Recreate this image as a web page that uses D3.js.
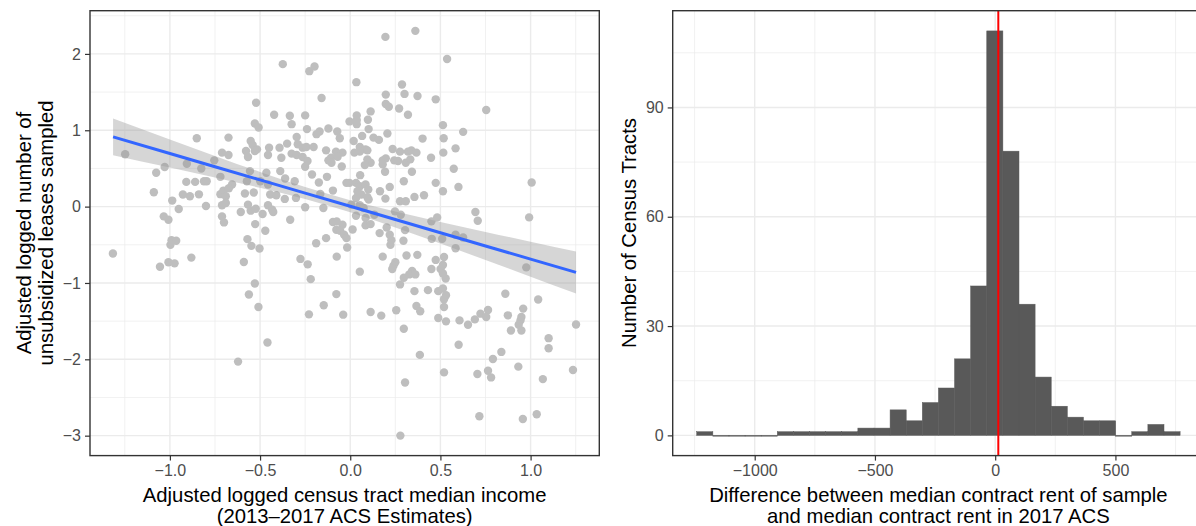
<!DOCTYPE html>
<html>
<head>
<meta charset="utf-8">
<script src="https://cdn.jsdelivr.net/npm/d3@7"></script>
<style>
  body { margin: 0; background: #fff; }
  svg { display: block; font-family: "Liberation Sans", Arial, sans-serif; }
</style>
</head>
<body>
<div id="chart"></div>
<script>
// left panel: adjusted logged income (x) vs adjusted logged leases sampled (y)
const scatterPoints = [
  [0.361, 2.302], [0.195, 2.223], [-0.374, 1.866], [-0.227, 1.774], [-0.198, 1.836], [0.537, 1.933],
  [0.034, 1.630], [0.287, 1.599], [0.197, 1.467], [0.301, 1.476], [0.373, 1.449], [-0.159, 1.422],
  [0.474, 1.405], [-0.522, 1.361], [0.197, 1.344], [0.214, 1.308], [0.271, 1.286], [0.754, 1.265],
  [0.113, 1.247], [0.320, 1.203], [-0.422, 1.203], [-0.335, 1.191], [-0.250, 1.195], [0.036, 1.195],
  [0.036, 1.133], [0.098, 1.138], [-0.004, 1.116], [-0.529, 1.089], [-0.508, 1.036], [-0.325, 1.080],
  [0.514, 1.067], [0.036, 1.080], [-0.240, 1.015], [-0.121, 1.024], [-0.170, 0.984], [0.102, 1.015],
  [0.626, 0.979], [-0.072, 0.984], [-0.187, 0.949], [0.206, 0.957], [-0.851, 0.895], [-0.675, 0.904],
  [-0.297, 0.913], [-0.058, 0.895], [0.066, 0.926], [0.401, 0.891], [0.518, 0.895], [0.129, 0.904],
  [0.159, 0.874], [-0.552, 0.860], [-0.541, 0.807], [0.019, 0.860], [-0.350, 0.825], [-0.291, 0.816],
  [-0.264, 0.772], [-0.243, 0.781], [-0.203, 0.781], [0.053, 0.781], [0.085, 0.750], [0.053, 0.720],
  [-0.450, 0.772], [-0.392, 0.772], [0.584, 0.763], [0.235, 0.755], [-0.134, 0.737], [-0.079, 0.720],
  [-0.043, 0.707], [-0.578, 0.729], [-0.517, 0.750], [-0.529, 0.729], [0.276, 0.720], [0.320, 0.720],
  [0.339, 0.737], [0.367, 0.707], [-0.711, 0.707], [-0.675, 0.676], [0.023, 0.707], [0.095, 0.737],
  [0.516, 0.707], [-0.325, 0.694], [-0.297, 0.676], [-0.264, 0.650], [-0.106, 0.641], [-0.070, 0.654],
  [-0.456, 0.676], [-1.248, 0.685], [-0.567, 0.650], [0.448, 0.641], [-0.121, 0.606], [-0.104, 0.575],
  [0.095, 0.619], [0.113, 0.575], [0.081, 0.544], [0.180, 0.606], [0.197, 0.632], [0.180, 0.553],
  [0.244, 0.606], [0.265, 0.597], [0.308, 0.575], [0.333, 0.619], [-0.754, 0.606], [-0.382, 0.641],
  [-0.237, 0.597], [-0.250, 0.522], [-0.047, 0.526], [-0.906, 0.562], [0.574, 0.496], [-1.029, 0.518],
  [-1.076, 0.443], [-0.826, 0.500], [-0.388, 0.465], [-0.465, 0.443], [-0.556, 0.465], [0.193, 0.456],
  [0.342, 0.456], [-0.212, 0.421], [-0.129, 0.390], [0.055, 0.412], [-0.720, 0.390], [-0.004, 0.311],
  [0.032, 0.311], [0.053, 0.268], [0.085, 0.289], [-0.909, 0.324], [-0.860, 0.324], [-0.811, 0.333],
  [-0.796, 0.333], [0.474, 0.311], [1.006, 0.315], [-0.573, 0.333], [-0.499, 0.333], [-0.456, 0.289],
  [-0.308, 0.333], [-0.174, 0.315], [-0.021, 0.311], [0.297, 0.333], [-0.655, 0.289], [-0.361, 0.368],
  [0.600, 0.258], [0.100, 0.223], [0.219, 0.258], [-1.089, 0.188], [0.514, 0.201], [-0.703, 0.210],
  [-0.673, 0.240], [-0.720, 0.163], [-0.690, 0.136], [-0.839, 0.161], [-0.584, 0.171], [-0.535, 0.184],
  [-0.928, 0.158], [-0.889, 0.136], [-0.444, 0.158], [-0.410, 0.149], [-0.363, 0.101], [-0.301, 0.114],
  [-0.166, 0.166], [-0.096, 0.210], [0.165, 0.201], [0.356, 0.127], [0.409, 0.149], [0.040, 0.201],
  [0.061, 0.158], [0.032, 0.114], [0.095, 0.123], [0.195, 0.105], [-0.987, 0.079], [-0.690, 0.048],
  [-0.711, 0.017], [-0.567, 0.026], [-0.800, 0.008], [-0.456, 0.017], [-0.552, -0.053], [-0.524, -0.027],
  [0.102, 0.092], [0.276, 0.070], [0.308, 0.070], [0.006, 0.026], [0.053, 0.017], [0.074, -0.018],
  [-0.250, -0.009], [-0.149, -0.018], [-0.951, -0.031], [-0.433, -0.040], [-0.607, -0.070], [-0.486, -0.097],
  [-0.427, -0.070], [-1.034, -0.128], [-1.008, -0.172], [-0.711, -0.128], [-0.700, -0.207], [-0.333, -0.172],
  [-0.527, -0.229], [0.032, -0.119], [0.085, -0.150], [0.134, -0.106], [0.248, -0.062], [0.280, -0.106],
  [0.694, -0.070], [0.707, -0.185], [0.992, -0.141], [-0.096, -0.202], [-0.075, -0.193], [-0.043, -0.237],
  [0.085, -0.246], [0.113, -0.229], [0.202, -0.273], [0.304, -0.308], [0.450, -0.193], [0.482, -0.141],
  [-0.077, -0.303], [-0.056, -0.316], [-0.034, -0.369], [-0.021, -0.413], [0.013, -0.299], [-0.471, -0.316],
  [0.163, -0.347], [0.219, -0.369], [0.584, -0.369], [0.626, -0.404], [0.452, -0.422], [0.510, -0.422],
  [-0.134, -0.413], [0.228, -0.439], [0.223, -0.501], [0.295, -0.448], [-0.570, -0.426], [-0.991, -0.439],
  [-0.965, -0.448], [-0.997, -0.501], [-0.189, -0.479], [-0.548, -0.514], [-0.503, -0.549], [-0.017, -0.536],
  [0.584, -0.545], [-1.316, -0.615], [-0.075, -0.655], [0.180, -0.655], [0.312, -0.641], [0.372, -0.632],
  [0.520, -0.659], [-0.881, -0.668], [-0.276, -0.685], [0.474, -0.698], [-0.590, -0.725], [-1.055, -0.787],
  [-1.008, -0.729], [-0.974, -0.743], [-0.236, -0.756], [0.250, -0.729], [0.240, -0.773], [0.233, -0.817],
  [0.976, -0.796], [0.514, -0.765], [0.501, -0.817], [0.450, -0.817], [0.053, -0.852], [0.343, -0.844],
  [0.327, -0.888], [0.361, -0.888], [0.514, -0.875], [0.529, -0.941], [-0.219, -0.950], [0.297, -0.932],
  [0.276, -1.019], [-0.529, -1.006], [0.431, -1.094], [0.488, -1.107], [0.514, -1.072], [0.531, -1.160],
  [0.520, -1.213], [0.356, -1.107], [-0.562, -1.151], [-0.077, -1.146], [0.860, -1.142], [1.042, -1.217],
  [-0.509, -1.314], [-0.147, -1.292], [0.520, -1.314], [0.367, -1.301], [0.388, -1.371], [0.959, -1.336],
  [0.764, -1.353], [0.113, -1.380], [0.255, -1.358], [-0.229, -1.411], [-0.039, -1.415], [0.172, -1.428],
  [0.722, -1.402], [0.754, -1.446], [0.874, -1.424], [0.488, -1.459], [0.949, -1.446], [0.944, -1.490],
  [0.934, -1.547], [0.531, -1.503], [0.606, -1.490], [0.691, -1.477], [0.653, -1.547], [1.252, -1.543],
  [0.891, -1.622], [0.949, -1.622], [0.297, -1.600], [1.100, -1.723], [1.100, -1.855], [-0.459, -1.780],
  [0.601, -1.810], [0.838, -1.903], [0.386, -1.942], [-0.622, -2.030], [0.791, -1.995], [0.932, -2.096],
  [1.235, -2.140], [0.520, -2.171], [0.764, -2.149], [0.781, -2.237], [0.705, -2.193], [1.068, -2.259],
  [0.304, -2.303], [0.716, -2.746], [0.957, -2.782], [1.034, -2.720], [0.278, -2.999]
];

// linear fit with confidence band
const fitX = [-1.315, -1.0, -0.75, -0.5, -0.25, 0.0, 0.25, 0.5, 0.75, 1.0, 1.252];
const fitY = [0.914, 0.696, 0.523, 0.350, 0.177, 0.004, -0.169, -0.342, -0.515, -0.688, -0.862];
const fitLower = [0.674, 0.512, 0.382, 0.246, 0.099, -0.075, -0.273, -0.484, -0.699, -0.917, -1.137];
const fitUpper = [1.154, 0.880, 0.664, 0.454, 0.256, 0.083, -0.065, -0.200, -0.331, -0.459, -0.587];

const scatterXTicks = [-1.0, -0.5, 0.0, 0.5, 1.0];
const scatterYTicks = [-3, -2, -1, 0, 1, 2];

// right panel: histogram of rent differences (30 bins)
const binEdges = [-1241, -1174, -1107, -1040, -973, -906, -839, -772, -705, -638, -571, -504, -437, -370,
  -303, -236, -169, -102, -35, 32, 99, 166, 233, 300, 367, 434, 501, 568, 635, 702, 769];
const binCounts = [1, 0, 0, 0, 0, 1, 1, 1, 1, 1, 2, 2, 7, 4, 9, 13, 21, 41, 111, 78, 36, 16, 8, 5, 4, 4, 0, 1, 3, 1];
const medianDiff = 13;

const histXTicks = [-1000, -500, 0, 500];
const histYTicks = [0, 30, 60, 90];

document.addEventListener("DOMContentLoaded", () => {
  const W = 1196, H = 526;
  const GRID = "#EBEBEB";
  const BORDER = "#333333";
  const TICK_TEXT = "#4D4D4D";

  const svg = d3.select("#chart").append("svg")
    .attr("width", W).attr("height", H);

  function drawFrame(g, x, y, xMajor, xMinor, yMajor, yMinor) {
    const [x0, x1] = x.range();
    const [y0, y1] = y.range();
    // minor grid
    g.append("g").selectAll("line").data(xMinor).enter().append("line")
      .attr("x1", d => x(d)).attr("x2", d => x(d)).attr("y1", y1).attr("y2", y0)
      .attr("stroke", GRID).attr("stroke-width", 0.7);
    g.append("g").selectAll("line").data(yMinor).enter().append("line")
      .attr("y1", d => y(d)).attr("y2", d => y(d)).attr("x1", x0).attr("x2", x1)
      .attr("stroke", GRID).attr("stroke-width", 0.7);
    // major grid
    g.append("g").selectAll("line").data(xMajor).enter().append("line")
      .attr("x1", d => x(d)).attr("x2", d => x(d)).attr("y1", y1).attr("y2", y0)
      .attr("stroke", GRID).attr("stroke-width", 1.4);
    g.append("g").selectAll("line").data(yMajor).enter().append("line")
      .attr("y1", d => y(d)).attr("y2", d => y(d)).attr("x1", x0).attr("x2", x1)
      .attr("stroke", GRID).attr("stroke-width", 1.4);
  }

  function drawAxes(g, x, y, xMajor, yMajor, xFmt, yFmt) {
    const [x0, x1] = x.range();
    const [y0, y1] = y.range();
    const ax = g.append("g").attr("transform", `translate(0,${y0})`)
      .call(d3.axisBottom(x).tickValues(xMajor).tickFormat(xFmt).tickSize(5).tickSizeOuter(0).tickPadding(4));
    const ay = g.append("g").attr("transform", `translate(${x0},0)`)
      .call(d3.axisLeft(y).tickValues(yMajor).tickFormat(yFmt).tickSize(5).tickSizeOuter(0).tickPadding(4));
    [ax, ay].forEach(a => {
      a.select(".domain").remove();
      a.selectAll(".tick line").attr("stroke", BORDER).attr("stroke-width", 1.2);
      a.selectAll(".tick text").attr("fill", TICK_TEXT)
        .style("font-size", "16px").style("font-family", "Liberation Sans, Arial, sans-serif");
    });
    g.append("rect")
      .attr("x", x0).attr("y", y1).attr("width", x1 - x0).attr("height", y0 - y1)
      .attr("fill", "none").attr("stroke", BORDER).attr("stroke-width", 1.4);
  }

  function multiLine(g, lines, x, y, rotate) {
    const t = g.append("text")
      .attr("text-anchor", "middle")
      .attr("fill", "#000")
      .style("font-size", "20.3px")
      .attr("transform", rotate ? `translate(${x},${y}) rotate(-90)` : `translate(${x},${y})`);
    lines.forEach((s, i) => {
      t.append("tspan").attr("x", 0).attr("y", i * 21.5).attr("dy", "0.35em").text(s);
    });
  }

  // VIZ 1 : SCATTER WITH LINEAR FIT
  function createScatterPlot() {
    const g = svg.append("g");
    const x = d3.scaleLinear().domain([-1.443, 1.381]).range([90, 599.3]);
    const y = d3.scaleLinear().domain([-3.261, 2.566]).range([455.6, 10.7]);

    drawFrame(g, x, y, scatterXTicks, [-1.25, -0.75, -0.25, 0.25, 0.75, 1.25],
      scatterYTicks, [-2.5, -1.5, -0.5, 0.5, 1.5, 2.5]);

    g.append("g").selectAll("circle").data(scatterPoints).enter().append("circle")
      .attr("cx", d => x(d[0])).attr("cy", d => y(d[1]))
      .attr("r", 4.2).attr("fill", "#BEBEBE");

    const band = fitX.map((v, i) => ({ x: v, lo: fitLower[i], hi: fitUpper[i], y: fitY[i] }));
    g.append("path").datum(band)
      .attr("d", d3.area().x(d => x(d.x)).y0(d => y(d.lo)).y1(d => y(d.hi)).curve(d3.curveMonotoneX))
      .attr("fill", "#999999").attr("opacity", 0.4);
    g.append("path").datum(band)
      .attr("d", d3.line().x(d => x(d.x)).y(d => y(d.y)))
      .attr("fill", "none").attr("stroke", "#3366FF").attr("stroke-width", 3);

    drawAxes(g, x, y, scatterXTicks, scatterYTicks, d3.format(".1f"), d3.format("d"));

    multiLine(g, ["Adjusted logged census tract median income", "(2013\u20132017 ACS Estimates)"], 344.6, 494.5, false);
    multiLine(g, ["Adjusted logged number of", "unsubsidized leases sampled"], 24, 233, true);
  }

  // VIZ 2 : HISTOGRAM
  function createHistogram() {
    const g = svg.append("g");
    const x = d3.scaleLinear().domain([-1341, 870]).range([672.7, 1204.4]);
    const y = d3.scaleLinear().domain([-5.55, 116.55]).range([455.6, 10.7]);

    drawFrame(g, x, y, histXTicks, [-1250, -750, -250, 250, 750],
      histYTicks, [15, 45, 75, 105]);

    const bins = binCounts.map((c, i) => ({ x0: binEdges[i], x1: binEdges[i + 1], n: c }));
    g.append("g").selectAll("rect").data(bins).enter().append("rect")
      .attr("x", d => x(d.x0)).attr("width", d => x(d.x1) - x(d.x0))
      .attr("y", d => y(d.n)).attr("height", d => Math.max(y(0) - y(d.n), 0.8))
      .attr("fill", "#595959")
      .attr("stroke", "#595959").attr("stroke-width", 0.5);

    g.append("line")
      .attr("x1", x(medianDiff)).attr("x2", x(medianDiff))
      .attr("y1", y.range()[1]).attr("y2", y.range()[0])
      .attr("stroke", "red").attr("stroke-width", 2);

    drawAxes(g, x, y, histXTicks, histYTicks, d3.format("d"), d3.format("d"));

    multiLine(g, ["Difference between median contract rent of sample", "and median contract rent in 2017 ACS"], 938.4, 494.5, false);
    multiLine(g, ["Number of Census Tracts"], 629, 233, true);
  }

  createScatterPlot();
  createHistogram();
});
</script>
</body>
</html>
